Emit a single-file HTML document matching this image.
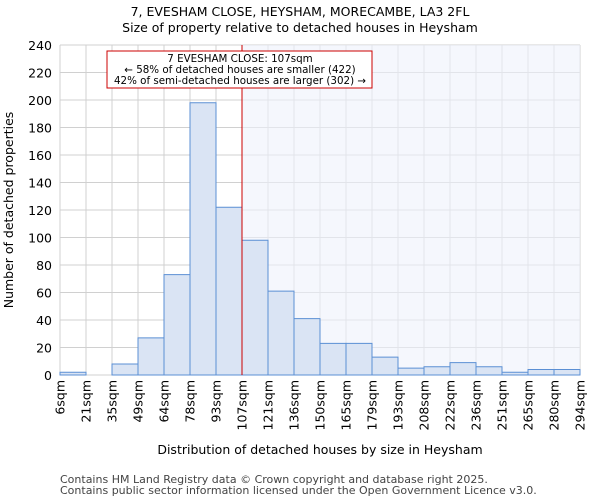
<!DOCTYPE html>
<html><head><meta charset="utf-8"><style>
body{margin:0;background:#fff;font-family:"DejaVu Sans","Liberation Sans",sans-serif;}
svg text{font-family:"DejaVu Sans","Liberation Sans",sans-serif;}
</style></head><body>
<svg id="chart" width="600" height="500" xmlns="http://www.w3.org/2000/svg">
<text x="300" y="16" text-anchor="middle" font-size="12.5">7, EVESHAM CLOSE, HEYSHAM, MORECAMBE, LA3 2FL</text>
<text x="300" y="32" text-anchor="middle" font-size="12.5">Size of property relative to detached houses in Heysham</text>
<g id="grid"></g>
<rect id="shade" y="45" height="330" fill="#eef2fc" opacity="0.6"/>
<g id="bars"></g>
<g id="axes"></g>
<text transform="translate(13,210) rotate(-90)" text-anchor="middle" font-size="12.5">Number of detached properties</text>
<text x="320" y="454" text-anchor="middle" font-size="12.5">Distribution of detached houses by size in Heysham</text>
<text x="60" y="483" font-size="11" fill="#444">Contains HM Land Registry data © Crown copyright and database right 2025.</text>
<text x="60" y="494" font-size="11" fill="#444">Contains public sector information licensed under the Open Government Licence v3.0.</text>
</svg>
<script>
const tickLabels=["6sqm","21sqm","35sqm","49sqm","64sqm","78sqm","93sqm","107sqm","121sqm","136sqm","150sqm","165sqm","179sqm","193sqm","208sqm","222sqm","236sqm","251sqm","265sqm","280sqm","294sqm"];
const counts=[2,0,8,27,73,198,122,98,61,41,23,23,13,5,6,9,6,2,4,4];
const yTicks=[0,20,40,60,80,100,120,140,160,180,200,220,240];
const markerIndex=7;
const annotationLines=["7 EVESHAM CLOSE: 107sqm","← 58% of detached houses are smaller (422)","42% of semi-detached houses are larger (302) →"];
const NS="http://www.w3.org/2000/svg";
const L=60,R=580,T=45,B=375,yMax=240;
const bw=(R-L)/counts.length;
const xs=i=>L+i*bw, ys=v=>B-(v/yMax)*(B-T);
function mk(tag,attrs,parent,txt){const e=document.createElementNS(NS,tag);for(const k in attrs)e.setAttribute(k,attrs[k]);if(txt!==undefined)e.textContent=txt;parent.appendChild(e);return e;}
const grid=document.getElementById('grid'),bars=document.getElementById('bars'),axes=document.getElementById('axes'),svg=document.getElementById('chart');
yTicks.forEach(v=>{const g=mk('line',{x1:L,x2:R,y1:ys(v),y2:ys(v),stroke:'#d0d0d0'},grid);


const t=mk('text',{x:L-8,y:ys(v)+5,'text-anchor':'end','font-size':12.5},axes,v);

});
tickLabels.forEach((s,i)=>{const g=mk('line',{x1:xs(i),x2:xs(i),y1:T,y2:B,stroke:'#d0d0d0'},grid);


const t=mk('text',{transform:`translate(${xs(i)+4.5},380) rotate(-90)`,'text-anchor':'end','font-size':12.5},axes,s);

});
const sh=document.getElementById('shade');sh.setAttribute('x',xs(markerIndex));sh.setAttribute('width',R-xs(markerIndex));
counts.forEach((c,i)=>{const r=mk('rect',{x:xs(i),y:ys(c),width:bw,height:B-ys(c),fill:'#dae4f4',stroke:'#5b8fd4','stroke-width':1},bars);

});
const ml=mk('line',{x1:xs(markerIndex),x2:xs(markerIndex),y1:T,y2:B,stroke:'#cc0000','stroke-width':1},svg);


const ab=mk('rect',{x:107,y:51,width:265,height:37,fill:'#fff',stroke:'#cc0000'},svg);


annotationLines.forEach((s,i)=>{const t=mk('text',{x:240,y:62+i*11,'text-anchor':'middle','font-size':10.3},svg,s);

});
</script>
</body></html>
